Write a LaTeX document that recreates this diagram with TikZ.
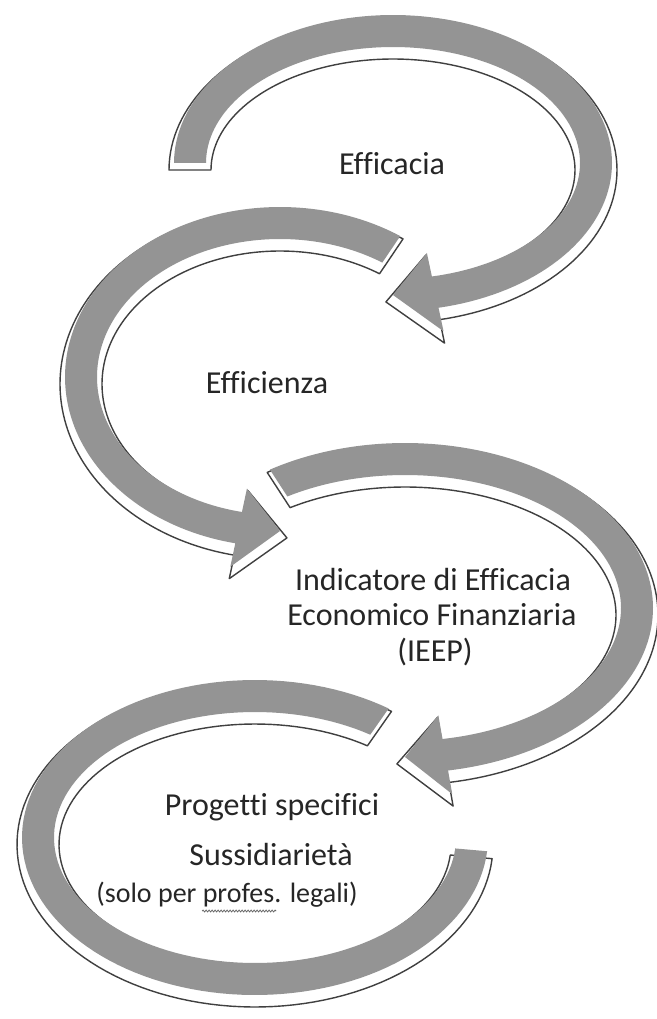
\documentclass[tikz,border=0pt]{standalone}
\usepackage{fontspec}
\setmainfont[Ligatures=CommonOff]{Carlito}
\usetikzlibrary{decorations.pathmorphing,calc}
% cx cy rx ry halfwidth start headbase tip headhalfwidth
\newcommand{\ArrowShape}[9]{%
  plot[domain=#6:#7,samples=120] ({#1+(#3+#5)*cos(\x)},{#2+(#4+#5)*sin(\x)})
  -- ({#1+(#3+#9)*cos(#7)},{#2+(#4+#9)*sin(#7)})
  -- ({#1+#3*cos(#8)},{#2+#4*sin(#8)})
  -- ({#1+(#3-#9)*cos(#7)},{#2+(#4-#9)*sin(#7)})
  -- plot[domain=#7:#6,samples=120] ({#1+(#3-#5)*cos(\x)},{#2+(#4-#5)*sin(\x)})
  -- cycle}
\tikzset{
  band/.style={fill=black!42, draw=none},
  shadowline/.style={fill=white, draw=black!75, line width=1.4pt, line join=round},
  lbl/.style={inner sep=0pt, anchor=base, text=black!85, font=\fontsize{32}{38}\selectfont},
  lblsmall/.style={lbl, font=\fontsize{28}{32}\selectfont}
}
\begin{document}
\begin{tikzpicture}[x=1pt,y=-1pt]
\useasboundingbox (0,0) rectangle (656,1019);
\fill[white] (0,0) rectangle (656,1019);
% shadows
\filldraw[shadowline] \ArrowShape{393}{170}{203}{132}{21}{180}{438}{452}{45};
\filldraw[shadowline] \ArrowShape{280}{384}{199}{154}{21}{304}{102}{88}{45};
\filldraw[shadowline] \ArrowShape{405}{615}{232}{149}{21}{237}{440}{452}{45};
\filldraw[shadowline] \ArrowShape{255}{844.5}{217}{141.5}{21}{305}{5}{5}{21};
% bands
\fill[band] \ArrowShape{393}{163}{203}{132}{16}{180}{438}{450}{40};
\fill[band] \ArrowShape{280}{377}{199}{154}{16}{304}{102}{90}{40};
\fill[band] \ArrowShape{405}{608}{232}{149}{16}{237}{440}{450}{40};
\fill[band] \ArrowShape{255}{837.5}{217}{141.5}{16}{305}{5}{5}{16};
% labels
\node[lbl] (efficacia) at (392,175) {Efficacia};
\node[lbl] (efficienza) at (267,393) {Efficienza};
\node[lbl] (ieep1) at (433,590) {Indicatore di Efficacia};
\node[lbl] (ieep2) at (432,625) {Economico Finanziaria};
\node[lbl] (ieep3) at (435,661) {(IEEP)};
\node[lbl] (progetti) at (272,815) {Progetti specifici};
\node[lbl] (sussid) at (271,865) {Sussidiarietà};
\node[lblsmall] (legali) at (227,902) {(solo per profes. legali)};
\draw[black!60, line width=0.8pt, decorate, decoration={snake, amplitude=0.9pt, segment length=3pt}]
  ($(legali.base west)+(106,9)$) -- ($(legali.base west)+(180,9)$);
\end{tikzpicture}
\end{document}
